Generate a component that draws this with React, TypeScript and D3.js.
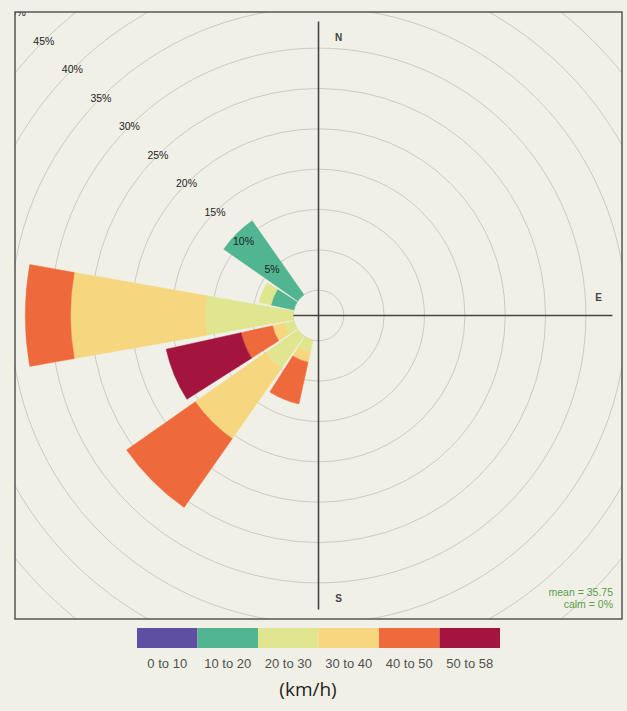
import React, { useEffect, useRef } from "react";
import * as d3 from "d3";

// 16 compass sectors, 22.5 degrees apart
const directions = ["N", "NNE", "NE", "ENE", "E", "ESE", "SE", "SSE", "S", "SSW", "SW", "WSW", "W", "WNW", "NW", "NNW"];
const speedBins = ["0 to 10", "10 to 20", "20 to 30", "30 to 40", "40 to 50", "50 to 58"];
const binColors = ["#5e4fa2", "#52b592", "#dfe68f", "#f6d77f", "#ee6a3c", "#a3143f"];

// frequency (%) per direction for each speed bin
const bin0to10 = [0, 0, 0, 0, 0, 0, 0, 0, 0, 0, 0, 0, 0, 0, 0, 0];
const bin10to20 = [0, 0, 0, 0, 0, 0, 0, 0, 0, 0, 0, 0, 0, 2.9, 11.2, 0];
const bin20to30 = [0, 0, 0, 0, 0, 0, 0, 0, 0, 1.5, 4.8, 1.2, 10.9, 1.5, 0, 0];
const bin30to40 = [0, 0, 0, 0, 0, 0, 0, 0, 0, 1.3, 10.7, 1.5, 16.7, 0, 0, 0];
const bin40to50 = [0, 0, 0, 0, 0, 0, 0, 0, 0, 5.3, 10.4, 4.0, 5.6, 0, 0, 0];
const bin50to58 = [0, 0, 0, 0, 0, 0, 0, 0, 0, 0, 0, 9.5, 0, 0, 0, 0];

const gridTicks = [0, 5, 10, 15, 20, 25, 30, 35, 40, 45, 50];
const meanLabel = "mean = 35.75";
const calmLabel = "calm = 0%";
const unitsLabel = "(km/h)";

const W = 627;
const H = 711;

export default function App() {
  const ref = useRef<SVGSVGElement | null>(null);

  useEffect(() => {
    const svg = d3.select(ref.current);
    svg.selectAll("*").remove();

    const panel = { x0: 15, y0: 12, x1: 622, y1: 619 };
    const cx = (panel.x0 + panel.x1) / 2;
    const cy = (panel.y0 + panel.y1) / 2;

    const r = d3.scaleLinear().domain([0, 50]).range([25.3, 25.3 + 50 * 8.07]);
    const angle = d3.scaleLinear().domain([0, directions.length]).range([0, 2 * Math.PI]);
    const halfWidth = (10 * Math.PI) / 180;

    svg.append("rect").attr("width", W).attr("height", H).attr("fill", "#f1f0e7");

    svg.append("defs").append("clipPath").attr("id", "panelClip")
      .append("rect")
      .attr("x", panel.x0).attr("y", panel.y0)
      .attr("width", panel.x1 - panel.x0).attr("height", panel.y1 - panel.y0);

    const g = svg.append("g").attr("clip-path", "url(#panelClip)");

    // grid circles
    g.selectAll("circle.grid")
      .data(gridTicks)
      .join("circle")
      .attr("cx", cx).attr("cy", cy)
      .attr("r", (d) => r(d))
      .attr("fill", "none")
      .attr("stroke", "#cbcbc4")
      .attr("stroke-width", 1);

    // axes
    const axLen = 294;
    g.append("line").attr("x1", cx).attr("x2", cx).attr("y1", cy - axLen).attr("y2", cy + axLen)
      .attr("stroke", "#444").attr("stroke-width", 1.6);
    g.append("line").attr("x1", cx - 288).attr("x2", cx + axLen).attr("y1", cy).attr("y2", cy)
      .attr("stroke", "#444").attr("stroke-width", 1.6);

    const compass = [
      { t: "N", x: cx + 20, y: cy - 278 },
      { t: "E", x: cx + 280, y: cy - 18 },
      { t: "S", x: cx + 20, y: cy + 283 },
      { t: "W", x: cx - 280, y: cy - 18 },
    ];
    g.selectAll("text.compass")
      .data(compass)
      .join("text")
      .attr("x", (d) => d.x).attr("y", (d) => d.y)
      .attr("text-anchor", "middle").attr("dominant-baseline", "central")
      .attr("font-family", "Liberation Sans, Arial, sans-serif")
      .attr("font-size", 10).attr("font-weight", "bold")
      .attr("fill", "#444")
      .text((d) => d.t);

    // stacked sectors
    const rows = directions.map((d, i) => ({
      dir: d,
      idx: i,
      [speedBins[0]]: bin0to10[i],
      [speedBins[1]]: bin10to20[i],
      [speedBins[2]]: bin20to30[i],
      [speedBins[3]]: bin30to40[i],
      [speedBins[4]]: bin40to50[i],
      [speedBins[5]]: bin50to58[i],
    }));
    const stacked = d3.stack<any>().keys(speedBins)(rows);
    const arc = d3.arc<any>();

    stacked.forEach((layer, li) => {
      g.append("g")
        .selectAll("path")
        .data(layer.filter((d) => d[1] - d[0] > 0))
        .join("path")
        .attr("transform", `translate(${cx},${cy})`)
        .attr("d", (d) =>
          arc({
            innerRadius: r(d[0]),
            outerRadius: r(d[1]),
            startAngle: angle(d.data.idx) - halfWidth,
            endAngle: angle(d.data.idx) + halfWidth,
          })
        )
        .attr("fill", binColors[li])
        .attr("stroke", binColors[li])
        .attr("stroke-width", 0.5);
    });

    // percent labels along 315 degrees
    const diag = Math.SQRT1_2;
    g.selectAll("text.pct")
      .data(gridTicks.filter((d) => d > 0))
      .join("text")
      .attr("x", (d) => cx - r(d) * diag)
      .attr("y", (d) => cy - r(d) * diag)
      .attr("text-anchor", "middle").attr("dominant-baseline", "central")
      .attr("font-family", "Liberation Sans, Arial, sans-serif")
      .attr("font-size", 10.5)
      .attr("fill", "#1e1e1e")
      .text((d) => `${d}%`);

    // mean / calm
    svg.append("text").attr("x", 613).attr("y", 592)
      .attr("text-anchor", "end").attr("dominant-baseline", "central")
      .attr("font-family", "Liberation Sans, Arial, sans-serif").attr("font-size", 10.5)
      .attr("fill", "#5a9e4c").text(meanLabel);
    svg.append("text").attr("x", 613).attr("y", 604)
      .attr("text-anchor", "end").attr("dominant-baseline", "central")
      .attr("font-family", "Liberation Sans, Arial, sans-serif").attr("font-size", 10.5)
      .attr("fill", "#5a9e4c").text(calmLabel);

    // panel border
    svg.append("rect")
      .attr("x", panel.x0).attr("y", panel.y0)
      .attr("width", panel.x1 - panel.x0).attr("height", panel.y1 - panel.y0)
      .attr("fill", "none").attr("stroke", "#555").attr("stroke-width", 1.5);

    // legend
    const lx = d3.scaleBand().domain(speedBins).range([137, 500]);
    const leg = svg.append("g");
    leg.selectAll("rect")
      .data(speedBins)
      .join("rect")
      .attr("x", (d) => lx(d)!).attr("y", 628)
      .attr("width", lx.bandwidth()).attr("height", 20)
      .attr("fill", (d, i) => binColors[i]);
    leg.selectAll("text")
      .data(speedBins)
      .join("text")
      .attr("x", (d) => lx(d)! + lx.bandwidth() / 2).attr("y", 663)
      .attr("text-anchor", "middle").attr("dominant-baseline", "central")
      .attr("font-family", "Liberation Sans, Arial, sans-serif").attr("font-size", 13)
      .attr("fill", "#505050")
      .text((d) => d);

    svg.append("text").attr("x", 308).attr("y", 689)
      .attr("text-anchor", "middle").attr("dominant-baseline", "central")
      .attr("font-family", "Open Sans, Noto Sans, sans-serif").attr("font-size", 19)
      .attr("fill", "#1e1e1e").text(unitsLabel);
  }, []);

  return (
    <div style={{ position: "fixed", left: 0, top: 0 }}>
      <svg ref={ref} width={W} height={H}></svg>
    </div>
  );
}
